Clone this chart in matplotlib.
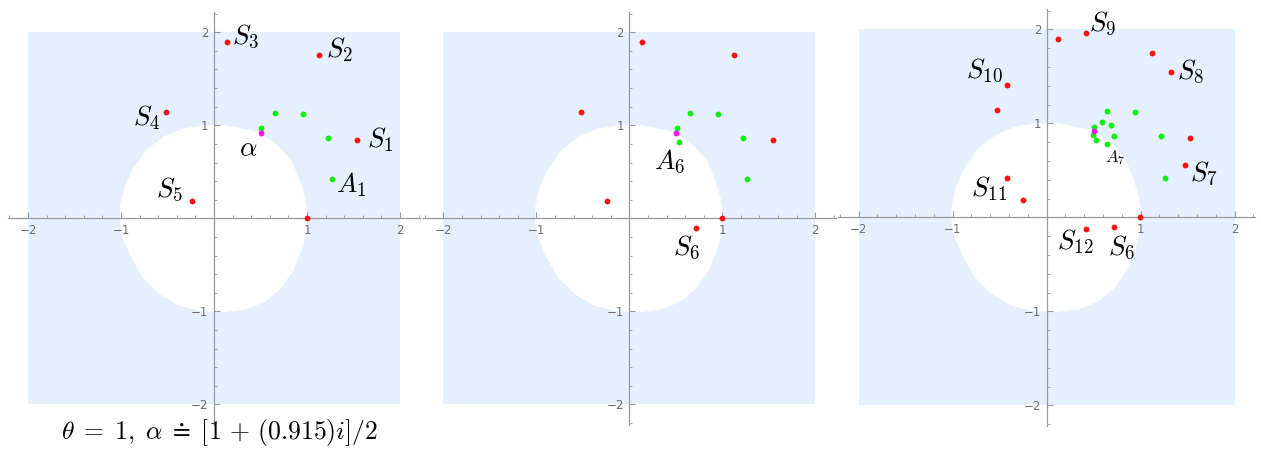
import matplotlib
matplotlib.use('Agg')
import matplotlib.pyplot as plt
from matplotlib.patches import Polygon, Rectangle
import numpy as np

plt.rcParams['mathtext.fontset'] = 'cm'

# ---------------- data ----------------
# boundary of the white (excluded) region
region_x = [0.0, 0.133, 0.491, 0.706, 0.832, 0.921, 0.975, 0.993, 0.993, 0.939, 0.849, 0.724, 0.563,
            0.348, 0.133, 0.0, -0.154, -0.369, -0.584, -0.763, -0.889, -0.978, -1.007, -1.007,
            -0.961, -0.871, -0.728, -0.548, -0.333, -0.118]
region_y = [0.996, 0.996, 0.925, 0.763, 0.620, 0.405, 0.226, 0.118, -0.133, -0.348, -0.563, -0.742,
            -0.885, -0.975, -1.0, -1.0, -0.993, -0.939, -0.814, -0.634, -0.419, -0.204, -0.061, 0.118,
            0.333, 0.530, 0.728, 0.871, 0.961, 0.996]

# panel 1
red1_x = [1.541, 1.125, 0.136, -0.516, -0.240, 1.0]
red1_y = [0.842, 1.756, 1.896, 1.140, 0.183, 0.0]
green1_x = [0.509, 0.656, 0.953, 1.226, 1.269]
green1_y = [0.971, 1.129, 1.122, 0.867, 0.423]
alpha_x, alpha_y = 0.50, 0.915
labels1 = [r'$S_1$', r'$S_2$', r'$S_3$', r'$S_4$', r'$S_5$', r'$A_1$', r'$\alpha$']
labels1_x = [1.785, 1.348, 0.344, -0.724, -0.473, 1.480, 0.369]
labels1_y = [0.849, 1.817, 1.960, 1.086, 0.315, 0.358, 0.742]

# panel 2 (adds S6, A6)
red2_x = red1_x + [0.717]
red2_y = red1_y + [-0.100]
green2_x = green1_x + [0.535]
green2_y = green1_y + [0.817]
labels2 = [r'$A_6$', r'$S_6$']
labels2_x = [0.437, 0.616]
labels2_y = [0.616, -0.305]

# panel 3
red3_x = [0.124, 0.415, 1.117, 1.326, -0.426, -0.528, 1.528, 1.468, -0.422, -0.252, 0.989, 0.418, 0.713]
red3_y = [1.894, 1.957, 1.752, 1.546, 1.411, 1.138, 0.844, 0.560, 0.415, 0.181, 0.0, -0.124, -0.099]
green3_x = [0.642, 0.936, 0.589, 0.688, 0.500, 0.493, 0.716, 1.213, 0.525, 0.642, 1.262]
green3_y = [1.128, 1.121, 1.014, 0.979, 0.965, 0.876, 0.869, 0.869, 0.819, 0.780, 0.422]
labels3 = [r'$S_9$', r'$S_{10}$', r'$S_8$', r'$S_7$', r'$S_{11}$', r'$S_{12}$', r'$S_6$']
labels3_x = [0.596, -0.663, 1.532, 1.674, -0.610, 0.301, 0.798]
labels3_y = [2.071, 1.567, 1.560, 0.475, 0.305, -0.259, -0.312]
small_label3 = r'$A_7$'
small_label3_xy = (0.727, 0.638)

major_ticks = [-2, -1, 1, 2]
caption = r'$\theta \;=\; 1,\; \alpha \;\doteq\; [1 \,+\, (0.915)i]/2$'

# ---------------- drawing ----------------
W, H = 1261, 449
fig = plt.figure(figsize=(W / 100, H / 100), dpi=100)
LIM = 2.22
AXC = '#9a9a9a'
TXC = '#6e6e6e'
BLUE = '#e4f0fd'
RED = '#ff1010'
GREEN = '#10ee10'
MAG = '#ff10ff'


def make_panel(ox, oy, scale):
    left = (ox - LIM * scale) / W
    bottom = 1 - (oy + LIM * scale) / H
    ax = fig.add_axes([left, bottom, 2 * LIM * scale / W, 2 * LIM * scale / H])
    ax.set_xlim(-LIM, LIM)
    ax.set_ylim(-LIM, LIM)
    ax.add_patch(Rectangle((-2, -2), 4, 4, facecolor=BLUE, edgecolor='none', zorder=0))
    ax.add_patch(Polygon(np.column_stack([region_x, region_y]), closed=True,
                         facecolor='white', edgecolor='white', lw=0.5, zorder=0.5))
    for s in ['top', 'right']:
        ax.spines[s].set_visible(False)
    for s in ['left', 'bottom']:
        ax.spines[s].set_position(('data', 0))
        ax.spines[s].set_color(AXC)
        ax.spines[s].set_linewidth(0.9)
    ax.set_xticks(major_ticks)
    ax.set_yticks(major_ticks)
    ax.set_xticklabels([f'\u2212{abs(t)}' if t < 0 else str(t) for t in major_ticks])
    ax.set_yticklabels([f'\u2212{abs(t)}' if t < 0 else str(t) for t in major_ticks])
    minors = [m for m in np.round(np.arange(-2.2, 2.21, 0.2), 1) if abs(m - round(m)) > 1e-6]
    ax.set_xticks(minors, minor=True)
    ax.set_yticks(minors, minor=True)
    ax.tick_params(which='major', direction='in', length=4, width=0.8, color=AXC,
                   labelcolor=TXC, labelsize=8.5, pad=4)
    ax.tick_params(which='minor', direction='in', length=2.2, width=0.6, color=AXC)
    ax.set_facecolor('none')
    return ax


def dots(ax, xs, ys, color):
    ax.plot(xs, ys, 'o', color=color, markersize=4.2, markeredgewidth=0, zorder=4, clip_on=False)


def labs(ax, texts, xs, ys, size=19.5):
    for t, x, y in zip(texts, xs, ys):
        ax.text(x, y, t, ha='center', va='center', fontsize=size, color='black', zorder=5)


ax1 = make_panel(214.0, 218.3, 93.0)
dots(ax1, red1_x, red1_y, RED)
dots(ax1, green1_x, green1_y, GREEN)
dots(ax1, [alpha_x], [alpha_y], MAG)
labs(ax1, labels1, labels1_x, labels1_y)

ax2 = make_panel(629.3, 218.3, 93.0)
dots(ax2, red2_x, red2_y, RED)
dots(ax2, green2_x, green2_y, GREEN)
dots(ax2, [alpha_x], [alpha_y], MAG)
labs(ax2, labels2, labels2_x, labels2_y)

ax3 = make_panel(1046.7, 217.3, 94.0)
dots(ax3, red3_x, red3_y, RED)
dots(ax3, green3_x, green3_y, GREEN)
dots(ax3, [alpha_x], [alpha_y], MAG)
labs(ax3, labels3, labels3_x, labels3_y)
ax3.text(small_label3_xy[0], small_label3_xy[1], small_label3, ha='center', va='center',
         fontsize=12, color='black', zorder=5)

fig.text(220 / W, 1 - 432 / H, caption, ha='center', va='center', fontsize=18.5, color='black')

fig.savefig('out.png', dpi=100)
